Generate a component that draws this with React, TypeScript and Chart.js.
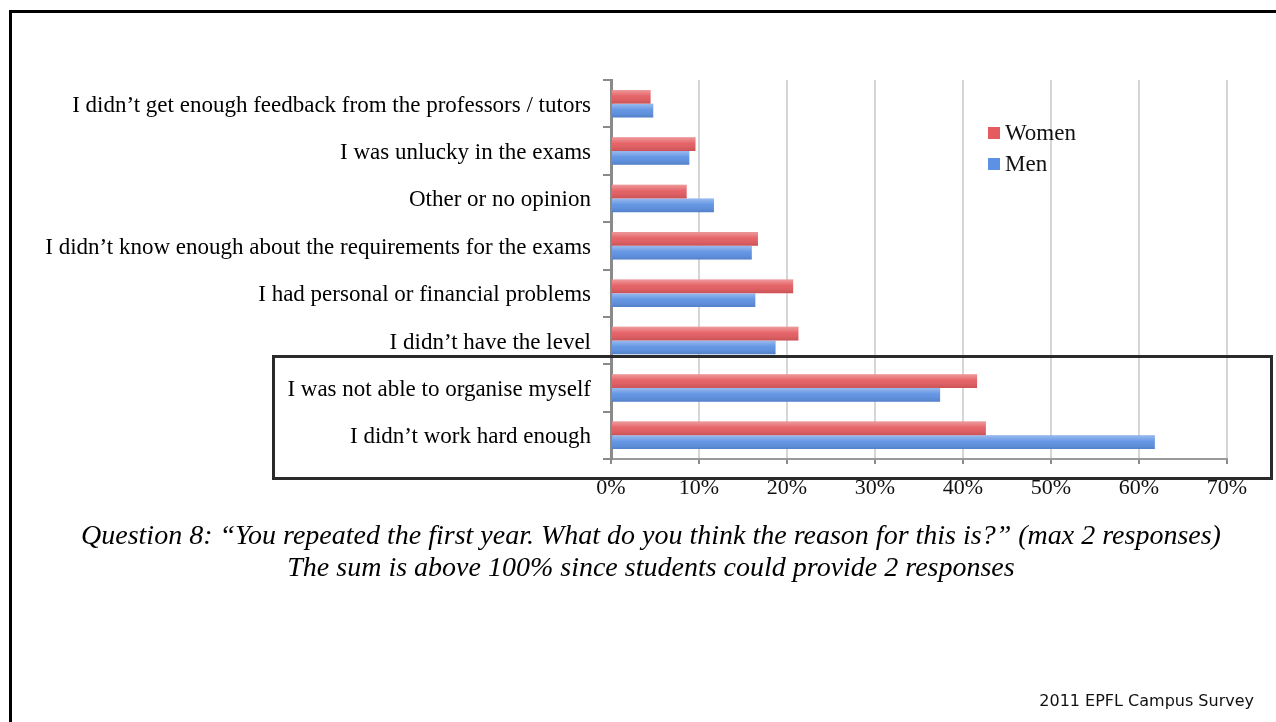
import React, { useEffect, useRef } from "react";
import { Chart, registerables } from "chart.js";

Chart.register(...registerables);

const categories = [
  "I didn’t get enough feedback from the professors / tutors",
  "I was unlucky in the exams",
  "Other or no opinion",
  "I didn’t know enough about the requirements for the exams",
  "I had personal or financial problems",
  "I didn’t have the level",
  "I was not able to organise myself",
  "I didn’t work hard enough",
];
const women = [4.5, 9.6, 8.6, 16.7, 20.7, 21.3, 41.6, 42.6];
const men = [4.8, 8.9, 11.7, 16.0, 16.4, 18.7, 37.4, 61.8];
const xTickLabels = ["0%", "10%", "20%", "30%", "40%", "50%", "60%", "70%"];
const seriesNames = ["Women", "Men"];
const seriesColors = ["#E45C60", "#5D91E3"];

const serif = "'Liberation Serif', 'Times New Roman', serif";

const shadePlugin = {
  id: "barShade",
  afterDatasetsDraw(chart: any) {
    const ctx = chart.ctx as CanvasRenderingContext2D;
    chart.data.datasets.forEach((_d: any, di: number) => {
      const meta = chart.getDatasetMeta(di);
      meta.data.forEach((el: any) => {
        const { x, y, base, height } = el.getProps(["x", "y", "base", "height"], true);
        const top = y - height / 2;
        const g = ctx.createLinearGradient(0, top, 0, top + height);
        g.addColorStop(0, "rgba(255,255,255,0.38)");
        g.addColorStop(0.45, "rgba(255,255,255,0.05)");
        g.addColorStop(1, "rgba(0,0,0,0.12)");
        ctx.save();
        ctx.fillStyle = g;
        ctx.fillRect(Math.min(base, x), top, Math.abs(x - base), height);
        ctx.restore();
      });
    });
  },
};

export default function App() {
  const ref = useRef<HTMLCanvasElement | null>(null);

  useEffect(() => {
    if (!ref.current) return;
    const chart = new Chart(ref.current, {
      type: "bar",
      data: {
        labels: categories,
        datasets: [
          {
            label: seriesNames[0],
            data: women,
            backgroundColor: seriesColors[0],
            categoryPercentage: 0.58,
            barPercentage: 1,
          },
          {
            label: seriesNames[1],
            data: men,
            backgroundColor: seriesColors[1],
            categoryPercentage: 0.58,
            barPercentage: 1,
          },
        ],
      },
      plugins: [shadePlugin],
      options: {
        indexAxis: "y",
        animation: false,
        responsive: false,
        maintainAspectRatio: false,
        layout: { padding: { left: 8, top: 80, right: 49, bottom: 0 } },
        plugins: { legend: { display: false }, tooltip: { enabled: false } },
        scales: {
          x: {
            min: 0,
            max: 70,
            ticks: {
              stepSize: 10,
              callback: (_v: any, i: number) => xTickLabels[i],
              font: { family: serif, size: 22 },
              color: "#111",
              padding: 11,
            },
            grid: { color: "#d6d6d6", lineWidth: 2, tickColor: "#8a8a8a", tickLength: 5 },
            border: { color: "#9a9a9a", width: 2 },
            afterFit: (s: any) => {
              s.height = 722 - 459;
            },
          },
          y: {
            ticks: {
              font: { family: serif, size: 23 },
              color: "#000",
              padding: 12,
              labelOffset: 2,
              autoSkip: false,
            },
            grid: { drawOnChartArea: false, tickLength: 8, color: "#8a8a8a", lineWidth: 2 },
            border: { color: "#8a8a8a", width: 3 },
            afterFit: (s: any) => {
              s.width = 603;
            },
          },
        },
      },
    });
    return () => chart.destroy();
  }, []);

  return (
    <div
      style={{
        position: "fixed",
        left: 0,
        top: 0,
        width: 1276,
        height: 722,
        overflow: "hidden",
        background: "#fff",
      }}
    >
      <canvas ref={ref} width={1276} height={722} style={{ position: "absolute", left: 0, top: 0 }} />
      {/* outer slide frame */}
      <div
        style={{
          position: "absolute",
          left: 9,
          top: 10,
          width: 1400,
          height: 900,
          border: "3px solid #000",
          pointerEvents: "none",
        }}
      />
      {/* highlight box */}
      <div
        style={{
          position: "absolute",
          left: 272,
          top: 355,
          width: 995,
          height: 119,
          border: "3px solid #2a2a2a",
          pointerEvents: "none",
        }}
      />
      {/* legend */}
      {seriesNames.map((n, i) => (
        <div
          key={n}
          style={{
            position: "absolute",
            left: 988,
            top: 120 + i * 31,
            height: 26,
            display: "flex",
            alignItems: "center",
            fontFamily: serif,
            fontSize: 23,
            color: "#111",
          }}
        >
          <span
            style={{
              display: "inline-block",
              width: 12,
              height: 12,
              background: seriesColors[i],
              marginRight: 5,
            }}
          />
          {n}
        </div>
      ))}
      {/* caption */}
      <div
        style={{
          position: "absolute",
          left: 0,
          width: 1302,
          top: 519,
          textAlign: "center",
          fontFamily: serif,
          fontStyle: "italic",
          fontSize: 28,
          lineHeight: "32px",
          color: "#000",
        }}
      >
        <div>Question 8: “You repeated the first year. What do you think the reason for this is?” (max 2 responses)</div>
        <div>The sum is above 100% since students could provide 2 responses</div>
      </div>
      {/* footer */}
      <div
        style={{
          position: "absolute",
          right: 22,
          top: 691,
          fontFamily: "'DejaVu Sans', Verdana, sans-serif",
          fontSize: 16,
          color: "#111",
        }}
      >
        2011 EPFL Campus Survey
      </div>
    </div>
  );
}
